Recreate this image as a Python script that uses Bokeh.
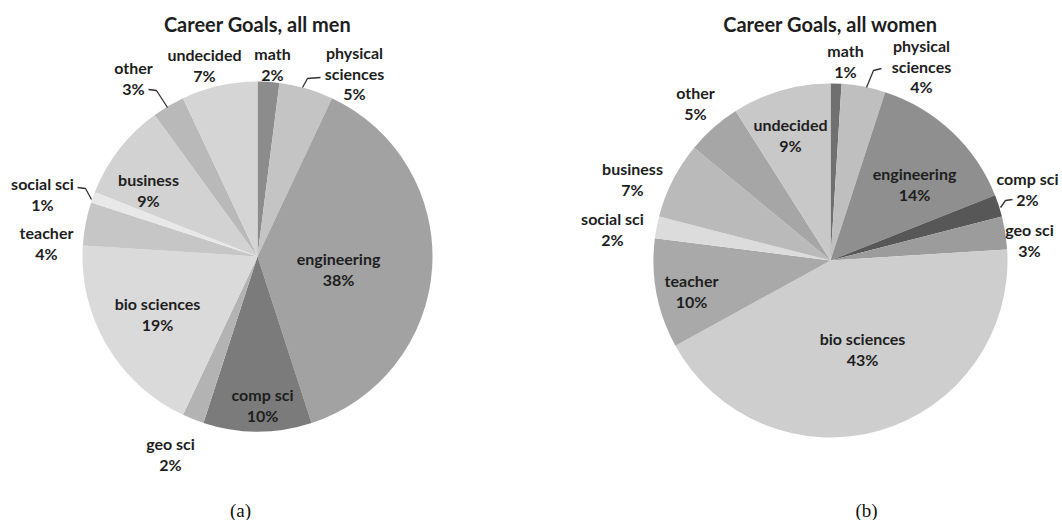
import math
from bokeh.plotting import figure
from bokeh.models import Range1d, ColumnDataSource
from bokeh.core.properties import value
from bokeh.embed import file_html
from bokeh.resources import INLINE

# ---------------- data ----------------
categories = ["math", "physical sciences", "engineering", "comp sci", "geo sci",
              "bio sciences", "teacher", "social sci", "business", "other", "undecided"]
men_pct = [2, 5, 38, 10, 2, 19, 4, 1, 9, 3, 7]
women_pct = [1, 4, 14, 2, 3, 43, 10, 2, 7, 5, 9]
label_lines = [["math"], ["physical", "sciences"], ["engineering"], ["comp sci"], ["geo sci"],
               ["bio sciences"], ["teacher"], ["social sci"], ["business"], ["other"], ["undecided"]]
men_colors = ["#8c8c8c", "#c4c4c4", "#a2a2a2", "#7b7b7b", "#b3b3b3", "#dadada",
              "#c6c6c6", "#e8e8e8", "#d2d2d2", "#b9b9b9", "#d5d5d5"]
women_colors = ["#707070", "#bfbfbf", "#8f8f8f", "#575757", "#9c9c9c", "#cecece",
                "#a9a9a9", "#dcdcdc", "#bababa", "#a6a6a6", "#c8c8c8"]
titles = ["Career Goals, all men", "Career Goals, all women"]
captions = ["(a)", "(b)"]

# ---------------- layout (page pixel coordinates) ----------------
FW, FH = 1062, 520
def Y(yp):
    return FH - yp

p = figure(width=FW, height=FH, x_range=Range1d(0, FW), y_range=Range1d(0, FH),
           output_backend="svg", toolbar_location=None, min_border=0,
           min_border_left=0, min_border_right=0, min_border_top=0, min_border_bottom=0)
p.axis.visible = False
p.grid.visible = False
p.outline_line_color = None
p.background_fill_color = "white"

pies = [
    dict(cx=257, cy=256, r=175, pct=men_pct, colors=men_colors,
         pos=[(272, 53), (354, 52), (338, 258), (262, 394), (170, 443), (157, 303),
              (46, 232), (42, 183), (148, 179), (133, 67), (204, 54)],
         leaders=[[(302, 87), (307, 78), (320, 77)],
                  [(148, 89), (156, 90), (167, 107)],
                  [(77, 187), (85, 188), (91, 199)]],
         title_x=257, cap_x=240),
    dict(cx=830, cy=260, r=177, pct=women_pct, colors=women_colors,
         pos=[(845, 50), (921, 45), (914, 173), (1027, 178), (1029, 229), (862, 338),
              (691, 280), (612, 218), (632, 168), (695, 92), (790, 124)],
         leaders=[[(866, 87), (873, 70), (881, 68)],
                  [(1000, 207), (1005, 200), (1012, 199)]],
         title_x=830, cap_x=866),
]

FONT = value("Lato")
TXT = "#1e1e1e"

for k, pie in enumerate(pies):
    total = float(sum(pie["pct"]))
    starts, ends = [], []
    cum = 0.0
    for v in pie["pct"]:
        starts.append(math.pi / 2 - 2 * math.pi * cum / total)
        cum += v
        ends.append(math.pi / 2 - 2 * math.pi * cum / total)
    src = ColumnDataSource(dict(x=[pie["cx"]] * len(starts), y=[Y(pie["cy"])] * len(starts),
                                start=starts, end=ends, color=pie["colors"]))
    p.wedge(x="x", y="y", radius=pie["r"], start_angle="start", end_angle="end",
            direction="clock", fill_color="color", line_color=None, source=src)

    # labels
    tx, ty, tt = [], [], []
    for i, (lx, ly) in enumerate(pie["pos"]):
        lines = label_lines[i] + ["%d%%" % pie["pct"][i]]
        for j, s in enumerate(lines):
            tx.append(lx)
            ty.append(Y(ly + j * 20.5))
            tt.append(s)
    p.text(x=tx, y=ty, text=tt, text_font=FONT, text_font_style="bold",
           text_font_size="16px", text_align="center", text_baseline="middle",
           text_color=TXT)

    for ld in pie["leaders"]:
        p.line([a for a, b in ld], [Y(b) for a, b in ld], line_color="#333333", line_width=1.3)

    p.text(x=[pie["title_x"]], y=[Y(23)], text=[titles[k]], text_font=FONT,
           text_font_style="bold", text_font_size="20px", text_align="center",
           text_baseline="middle", text_color=TXT)
    p.text(x=[pie["cap_x"]], y=[Y(510)], text=[captions[k]], text_font=value("Liberation Serif"),
           text_font_size="19px", text_align="center", text_baseline="middle",
           text_color="#111111")

open("out.html", "w").write(file_html(p, INLINE))
